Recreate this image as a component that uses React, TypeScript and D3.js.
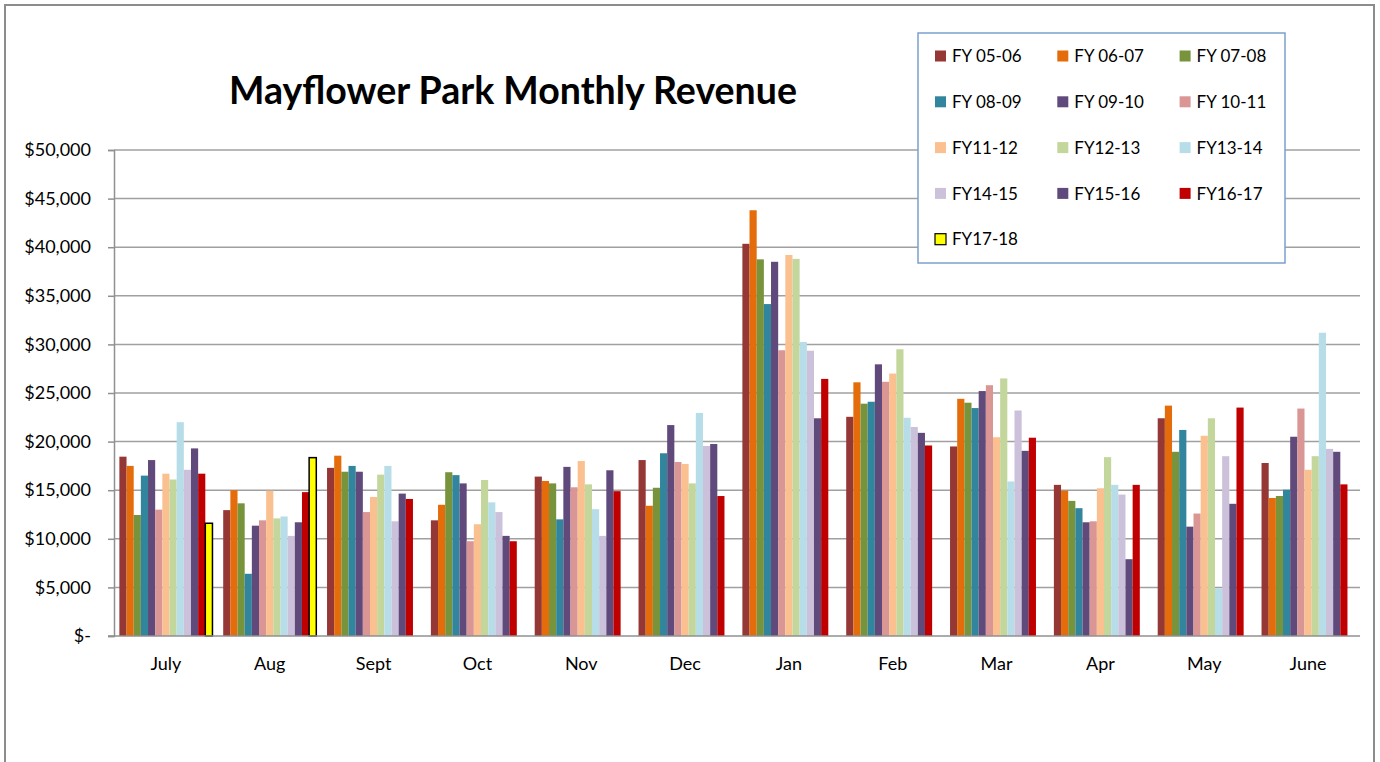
import { useEffect, useRef } from 'react';
import * as d3 from 'd3';

// Months (fiscal year order)
const months = ['July', 'Aug', 'Sept', 'Oct', 'Nov', 'Dec', 'Jan', 'Feb', 'Mar', 'Apr', 'May', 'June'];

// Revenue by fiscal year, in dollars, July..June
const fy0506 = [18450, 12950, 17300, 11900, 16400, 18100, 40350, 22550, 19500, 15550, 22400, 17800];
const fy0607 = [17500, 15000, 18550, 13500, 15950, 13400, 43800, 26100, 24400, 14950, 23700, 14200];
const fy0708 = [12450, 13650, 16900, 16850, 15700, 15250, 38750, 23900, 24000, 13900, 18950, 14400];
const fy0809 = [16500, 6400, 17500, 16550, 12000, 18800, 34150, 24100, 23450, 13150, 21200, 15050];
const fy0910 = [18100, 11350, 16900, 15700, 17400, 21700, 38500, 27950, 25200, 11700, 11250, 20500];
const fy1011 = [13000, 11900, 12750, 9750, 15300, 17900, 29400, 26150, 25800, 11800, 12600, 23400];
const fy1112 = [16700, 14950, 14300, 11500, 18000, 17700, 39200, 27000, 20450, 15200, 20600, 17100];
const fy1213 = [16100, 12100, 16600, 16050, 15600, 15700, 38800, 29500, 26500, 18400, 22400, 18500];
const fy1314 = [22000, 12300, 17500, 13750, 13050, 22950, 30250, 22450, 15900, 15550, 4900, 31200];
const fy1415 = [17100, 10300, 11800, 12750, 10300, 19550, 29350, 21500, 23200, 14550, 18500, 19250];
const fy1516 = [19300, 11700, 14650, 10300, 17050, 19750, 22400, 20900, 19050, 7900, 13600, 18950];
const fy1617 = [16700, 14800, 14100, 9750, 14900, 14400, 26450, 19600, 20400, 15550, 23500, 15600];
const fy1718 = [11600, 18350, null, null, null, null, null, null, null, null, null, null];

const seriesNames = [
  'FY 05-06', 'FY 06-07', 'FY 07-08', 'FY 08-09', 'FY 09-10', 'FY 10-11',
  'FY11-12', 'FY12-13', 'FY13-14', 'FY14-15', 'FY15-16', 'FY16-17', 'FY17-18',
];
const seriesValues = [fy0506, fy0607, fy0708, fy0809, fy0910, fy1011, fy1112, fy1213, fy1314, fy1415, fy1516, fy1617, fy1718];
const seriesColors = [
  '#953735', '#E46C0A', '#77933C', '#31859C', '#604A7B', '#D99694',
  '#FAC090', '#C3D69B', '#B7DEE8', '#CCC1DA', '#604A7B', '#C00000', '#FFFF00',
];

const yTicks = [0, 5000, 10000, 15000, 20000, 25000, 30000, 35000, 40000, 45000, 50000];

const FONT = 'Lato, "Open Sans", sans-serif';

const App = () => {
  const svgRef = useRef<SVGSVGElement>(null);

  useEffect(() => {
    const W = 1380;
    const H = 762;
    const plot = { left: 114, right: 1360, top: 150, bottom: 636 };

    const svg = d3.select(svgRef.current);
    svg.selectAll('*').remove();
    svg.attr('width', W).attr('height', H);

    // outer chart frame
    svg.append('rect')
      .attr('x', 5).attr('y', 5)
      .attr('width', 1369).attr('height', 820)
      .attr('fill', '#fff')
      .attr('stroke', '#8c8c8c')
      .attr('stroke-width', 2);

    // scales
    const x0 = d3.scaleBand<string>().domain(months).range([plot.left, plot.right]).padding(0);
    const x1 = d3.scaleBand<string>().domain(seriesNames).range([0, x0.bandwidth()])
      .paddingInner(0).paddingOuter(0.75);
    const y = d3.scaleLinear().domain([0, 50000]).range([plot.bottom, plot.top]);

    // gridlines
    svg.append('g')
      .selectAll('line')
      .data(yTicks.filter(d => d > 0))
      .enter().append('line')
      .attr('x1', plot.left).attr('x2', plot.right)
      .attr('y1', d => y(d)).attr('y2', d => y(d))
      .attr('stroke', '#a0a0a0')
      .attr('stroke-width', 1.5);

    // y axis
    const fmt = (d: number) => (d === 0 ? '$-' : '$' + d3.format(',')(d));
    const yAxis = d3.axisLeft(y).tickValues(yTicks).tickSize(6).tickPadding(17).tickFormat(d => fmt(d as number));
    const yg = svg.append('g')
      .attr('transform', `translate(${plot.left},0)`)
      .call(yAxis);
    yg.select('.domain').attr('stroke', '#909090').attr('stroke-width', 1.5);
    yg.selectAll('.tick line').attr('stroke', '#909090').attr('stroke-width', 1.5);
    yg.selectAll('.tick text')
      .attr('fill', '#000')
      .style('font-family', FONT)
      .style('font-size', '18px');

    // bars
    seriesNames.forEach((name, si) => {
      svg.append('g')
        .selectAll('rect')
        .data(months.map((m, mi) => ({ m, v: seriesValues[si][mi] })).filter(d => d.v != null))
        .enter().append('rect')
        .attr('x', d => (x0(d.m) as number) + (x1(name) as number))
        .attr('width', x1.bandwidth())
        .attr('y', d => y(d.v as number))
        .attr('height', d => y(0) - y(d.v as number))
        .attr('fill', seriesColors[si])
        .attr('stroke', si === 12 ? '#000' : 'none')
        .attr('stroke-width', si === 12 ? 1.5 : 0);
    });

    // x axis
    const xAxis = d3.axisBottom(x0).tickSize(0).tickPadding(21);
    const xg = svg.append('g')
      .attr('transform', `translate(0,${plot.bottom})`)
      .call(xAxis);
    xg.select('.domain').remove();
    svg.append('line')
      .attr('x1', plot.left - 6).attr('x2', plot.right)
      .attr('y1', plot.bottom).attr('y2', plot.bottom)
      .attr('stroke', '#909090').attr('stroke-width', 1.5);
    xg.selectAll('.tick text')
      .attr('fill', '#000')
      .style('font-family', FONT)
      .style('font-size', '18px');

    // title
    svg.append('text')
      .attr('x', 513).attr('y', 104)
      .attr('text-anchor', 'middle')
      .style('font-family', FONT)
      .style('font-weight', 'bold')
      .style('font-size', '37.5px')
      .text('Mayflower Park Monthly Revenue');

    // legend
    const lg = svg.append('g');
    lg.append('rect')
      .attr('x', 918).attr('y', 33)
      .attr('width', 367).attr('height', 230)
      .attr('fill', '#fff')
      .attr('stroke', '#7BA0CD')
      .attr('stroke-width', 1.5);
    const item = lg.selectAll('.legend')
      .data(seriesNames)
      .enter().append('g')
      .attr('class', 'legend')
      .attr('transform', (d, i) => `translate(${935 + (i % 3) * 122.3},${56 + Math.floor(i / 3) * 45.8})`);
    item.append('rect')
      .attr('x', 0).attr('y', -5.5)
      .attr('width', 11).attr('height', 11)
      .attr('fill', (d, i) => seriesColors[i])
      .attr('stroke', (d, i) => (i === 12 ? '#000' : 'none'))
      .attr('stroke-width', 1.2);
    item.append('text')
      .attr('x', 17).attr('y', 0)
      .attr('dy', '.36em')
      .style('font-family', FONT)
      .style('font-size', '17px')
      .text(d => d);
  }, []);

  return (
    <svg ref={svgRef} style={{ position: 'absolute', left: 0, top: 0 }}></svg>
  );
};

export default App;
